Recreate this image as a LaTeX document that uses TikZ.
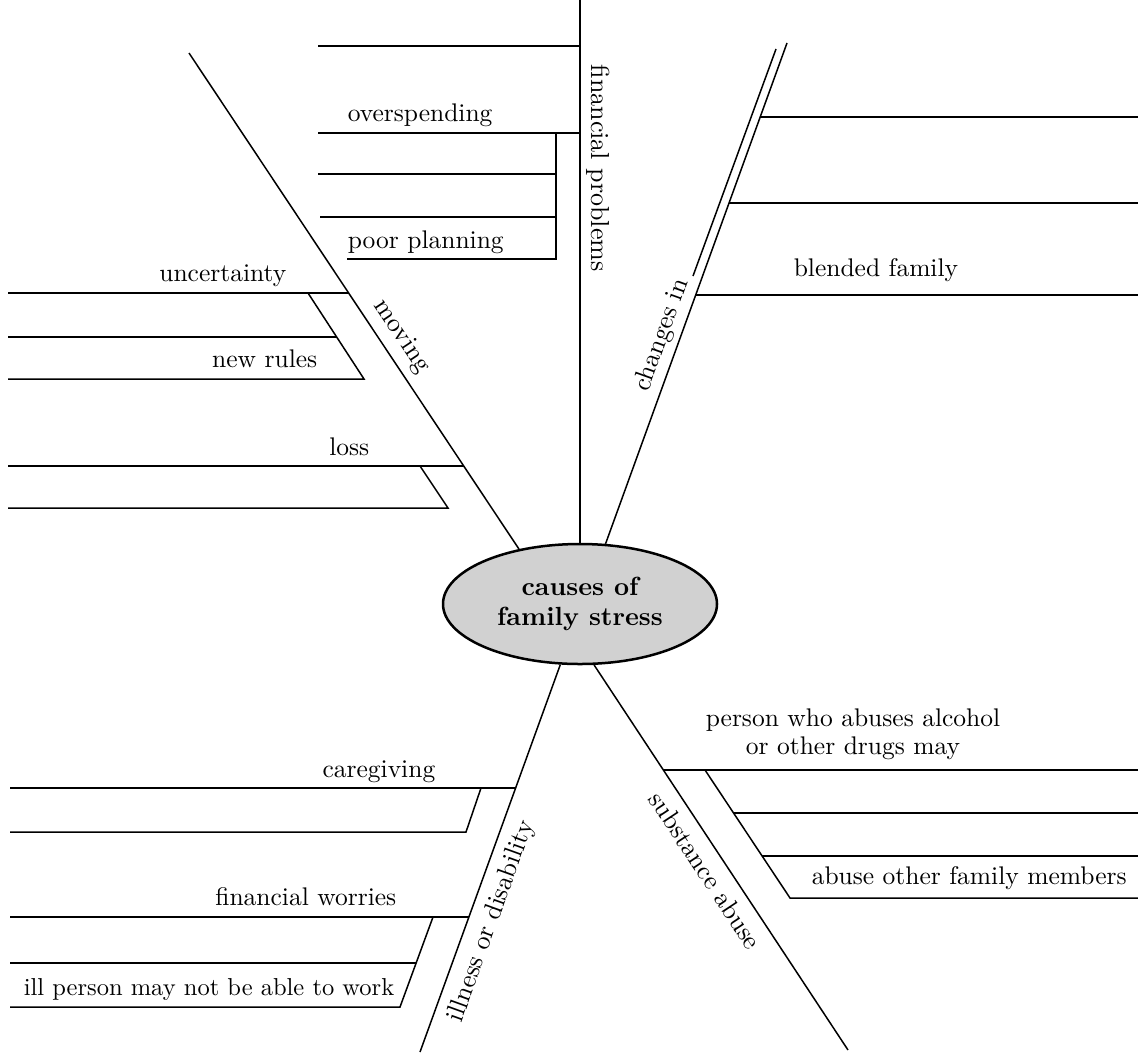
\documentclass[tikz,border=0pt]{standalone}
\usetikzlibrary{shapes.geometric}
\begin{document}
\begin{tikzpicture}[x=0.4pt,y=-0.4pt,line width=0.6pt,inner sep=0.4mm,
	lbl/.style={inner sep=0pt,font=\fontsize{10.2}{11.2}\selectfont},
	tag/.style={sloped,font=\fontsize{10.4}{12.5}\selectfont}]
	\useasboundingbox (0,0) rectangle (1138,1053);

	\node[ellipse,draw,line width=1pt,fill=black!18,minimum width=109.6pt,minimum height=48pt,inner sep=0pt,align=center,font=\bfseries\fontsize{10.5}{11.8}\selectfont] (hub) at (580,604) {causes of\\family stress};

	\coordinate (fin) at (580,0);
	\coordinate (mov) at (189,53);
	\coordinate (chg) at (787,43);
	\coordinate (ill) at (420,1052);
	\coordinate (sub) at (848,1050);
	\coordinate (ml) at (8,0);
	\coordinate (il) at (10,0);
	\coordinate (fl) at (318,0);
	\coordinate (cr) at (1138,0);

	\coordinate (f1) at (580,46);
	\coordinate (f2) at (580,133);
	\coordinate (f3) at (556,133);
	\coordinate (f4) at (556,174);
	\coordinate (f5) at (556,217);
	\coordinate (f6) at (556,259);
	\coordinate (f7) at (347,259);
	\coordinate (f8) at (320,217);

	\coordinate (m1) at (349,293);
	\coordinate (m2) at (308,293);
	\coordinate (m3) at (337,337);
	\coordinate (m4) at (364,379);
	\coordinate (m5) at (464,466);
	\coordinate (m6) at (420,466);
	\coordinate (m7) at (448,508);

	\coordinate (c1) at (760,117);
	\coordinate (c2) at (729,203);
	\coordinate (c3) at (696,295);
	\coordinate (ca) at (776,49);
	\coordinate (cb) at (693,276);

	\coordinate (i1) at (516,788);
	\coordinate (i2) at (481,788);
	\coordinate (i3) at (466,832);
	\coordinate (i4) at (469,917);
	\coordinate (i5) at (433,917);
	\coordinate (i6) at (416,963);
	\coordinate (i7) at (400,1007);

	\coordinate (s1) at (664,770);
	\coordinate (s2) at (705,770);
	\coordinate (s3) at (734,813);
	\coordinate (s4) at (762,856);
	\coordinate (s5) at (790,898);

	% spokes
	\draw (fin) -- node[tag,above=1pt,pos=0.31] {financial problems} (hub.90);
	\draw (mov) -- node[tag,above=2pt,pos=0.594] {moving} (hub.138);
	\draw (hub.67) -- node[tag,above=1pt,pos=0.405] {changes in} (chg);
	\draw (ill) -- node[tag,below=3pt,pos=0.357] {illness or disability} (hub.-108);
	\draw (hub.-77) -- node[tag,below=3pt,pos=0.505] {substance abuse} (sub);
	\draw (ca) -- (cb);

	\draw (f1) -- (f1 -| fl);
	\draw (f2) -- (f2 -| fl);
	\draw (f3) -- (f6) -- (f7);
	\draw (f4) -- (f4 -| fl);
	\draw (f5) -- (f8);

	\draw (m1) -- (m1 -| ml);
	\draw (m2) -- (m4) -- (m4 -| ml);
	\draw (m3) -- (m3 -| ml);
	\draw (m5) -- (m5 -| ml);
	\draw (m6) -- (m7) -- (m7 -| ml);

	\draw (c1) -- (c1 -| cr);
	\draw (c2) -- (c2 -| cr);
	\draw (c3) -- (c3 -| cr);

	\draw (i1) -- (i1 -| il);
	\draw (i2) -- (i3) -- (i3 -| il);
	\draw (i4) -- (i4 -| il);
	\draw (i5) -- (i7) -- (i7 -| il);
	\draw (i6) -- (i6 -| il);

	\draw (s1) -- (s1 -| cr);
	\draw (s2) -- (s5) -- (s5 -| cr);
	\draw (s3) -- (s3 -| cr);
	\draw (s4) -- (s4 -| cr);

	\node[lbl,anchor=base west] (overspend) at (347,121) {overspending};
	\node[lbl,anchor=base west] (planning) at (347,248) {poor planning};
	\node[lbl,anchor=base east] (uncert) at (287,281) {uncertainty};
	\node[lbl,anchor=base east] (rules) at (318,367) {new rules};
	\node[lbl,anchor=base east] (loss) at (370,455) {loss};
	\node[lbl,anchor=base west] (blended) at (793,276) {blended family};
	\node[lbl,anchor=base east] (care) at (436,777) {caregiving};
	\node[lbl,anchor=base east] (worries) at (397,905) {financial worries};
	\node[lbl,anchor=base east,font=\fontsize{9.8}{11}\selectfont] (work) at (395,995) {ill person may not be able to work};
	\node[lbl,align=center,anchor=south] (abuser) at (853,760) {person who abuses alcohol\\or other drugs may};
	\node[lbl,anchor=base west] (members) at (811,884) {abuse other family members};

\end{tikzpicture}
\end{document}
